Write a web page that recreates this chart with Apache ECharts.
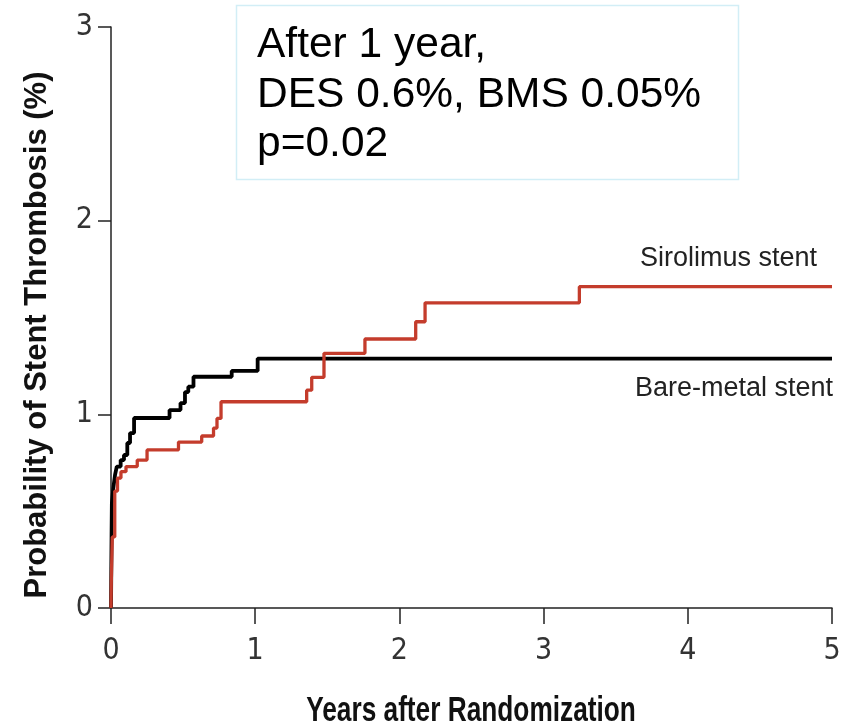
<!DOCTYPE html>
<html>
<head>
<meta charset="utf-8">
<script src="https://cdn.jsdelivr.net/npm/echarts@6/dist/echarts.min.js"></script>
<style>html,body{margin:0;padding:0;background:#fff;}#chart{width:848px;height:728px;}</style>
</head>
<body>
<div id="chart"></div>
<script>
// Kaplan-Meier style cumulative probability (%) vs years after randomization
const bmsYears = [0, 0.002, 0.004, 0.006, 0.016, 0.028, 0.04, 0.067, 0.09, 0.113, 0.132, 0.16, 0.406, 0.482, 0.513, 0.536, 0.572, 0.837, 1.017, 5];
const bmsProb  = [0, 0.2, 0.38, 0.54, 0.62, 0.687, 0.73, 0.764, 0.79, 0.852, 0.903, 0.981, 1.022, 1.058, 1.115, 1.143, 1.194, 1.224, 1.288, 1.288];

const sesYears = [0, 0.002, 0.009, 0.026, 0.045, 0.069, 0.104, 0.182, 0.25, 0.468, 0.629, 0.711, 0.735, 0.763, 1.357, 1.392, 1.477, 1.761, 2.113, 2.178, 3.248, 5];
const sesProb  = [0, 0.134, 0.367, 0.604, 0.671, 0.704, 0.73, 0.764, 0.816, 0.857, 0.888, 0.929, 0.979, 1.065, 1.125, 1.191, 1.315, 1.389, 1.478, 1.576, 1.659, 1.659];

const seriesNames = ['Bare-metal stent', 'Sirolimus stent'];
const xTicks = [0, 1, 2, 3, 4, 5];
const yTicks = [0, 1, 2, 3];
const annotationLines = ['After 1 year,', 'DES 0.6%, BMS 0.05%', 'p=0.02'];
const xTitle = 'Years after Randomization';
const yTitle = 'Probability of Stent Thrombosis (%)';

const pair = (xs, ys) => xs.map((x, i) => [x, ys[i]]);
const chart = echarts.init(document.getElementById('chart'));

const tickFont = {fontFamily: '"DejaVu Sans Condensed", sans-serif', fontSize: 30, color: '#333'};

chart.setOption({
  animation: false,
  backgroundColor: '#fff',
  grid: {left: 111, right: 16, top: 27, bottom: 120},
  xAxis: {
    type: 'value', min: 0, max: 5, interval: 1,
    axisLine: {show: true, lineStyle: {color: '#222', width: 1.5}},
    axisTick: {show: true, length: 16, lineStyle: {color: '#222', width: 1.5}},
    axisLabel: Object.assign({margin: 28, formatter: v => xTicks.includes(v) ? String(v) : ''}, tickFont),
    splitLine: {show: false}
  },
  yAxis: {
    type: 'value', min: 0, max: 3, interval: 1,
    name: yTitle, nameLocation: 'middle', nameGap: 58, nameRotate: 90,
    nameTextStyle: {fontFamily: '"Liberation Sans", sans-serif', fontWeight: 'bold', fontSize: 31, color: '#111', padding: [0, 35, 0, 0]},
    axisLine: {show: true, lineStyle: {color: '#222', width: 1.5}},
    axisTick: {show: true, length: 13, lineStyle: {color: '#222', width: 1.5}},
    axisLabel: Object.assign({margin: 18, formatter: v => yTicks.includes(v) ? String(v) : ''}, tickFont),
    splitLine: {show: false}
  },
  series: [
    {
      name: seriesNames[0], type: 'line', step: 'end', showSymbol: false, symbol: 'none',
      data: pair(bmsYears, bmsProb),
      lineStyle: {color: '#000', width: 3.8}, z: 2
    },
    {
      name: seriesNames[1], type: 'line', step: 'end', showSymbol: false, symbol: 'none',
      data: pair(sesYears, sesProb),
      lineStyle: {color: '#c43c2c', width: 3.3}, z: 3
    }
  ],
  graphic: [
    {type: 'text', x: 471, y: 711, scaleX: 0.75, style: {text: xTitle, font: 'bold 35px "Liberation Sans", sans-serif', fill: '#111', align: 'center', verticalAlign: 'middle'}, z: 11},
    {type: 'rect', shape: {x: 236.5, y: 5.5, width: 502, height: 174}, style: {fill: '#fff', stroke: '#d2eef6', lineWidth: 1.5}, z: 10},
    {type: 'text', x: 257, y: 45, style: {text: annotationLines[0], font: '42.5px "Liberation Sans", Arial, sans-serif', fill: '#000', verticalAlign: 'middle'}, z: 11},
    {type: 'text', x: 257, y: 95, style: {text: annotationLines[1], font: '42.5px "Liberation Sans", Arial, sans-serif', fill: '#000', verticalAlign: 'middle'}, z: 11},
    {type: 'text', x: 257, y: 144, style: {text: annotationLines[2], font: '42.5px "Liberation Sans", Arial, sans-serif', fill: '#000', verticalAlign: 'middle'}, z: 11},
    {type: 'text', x: 817, y: 259, style: {text: seriesNames[1], font: '27px "Liberation Sans", sans-serif', fill: '#222', align: 'right', verticalAlign: 'middle'}, z: 11},
    {type: 'text', x: 833, y: 389, style: {text: seriesNames[0], font: '27px "Liberation Sans", sans-serif', fill: '#222', align: 'right', verticalAlign: 'middle'}, z: 11}
  ]
});
</script>
</body>
</html>
